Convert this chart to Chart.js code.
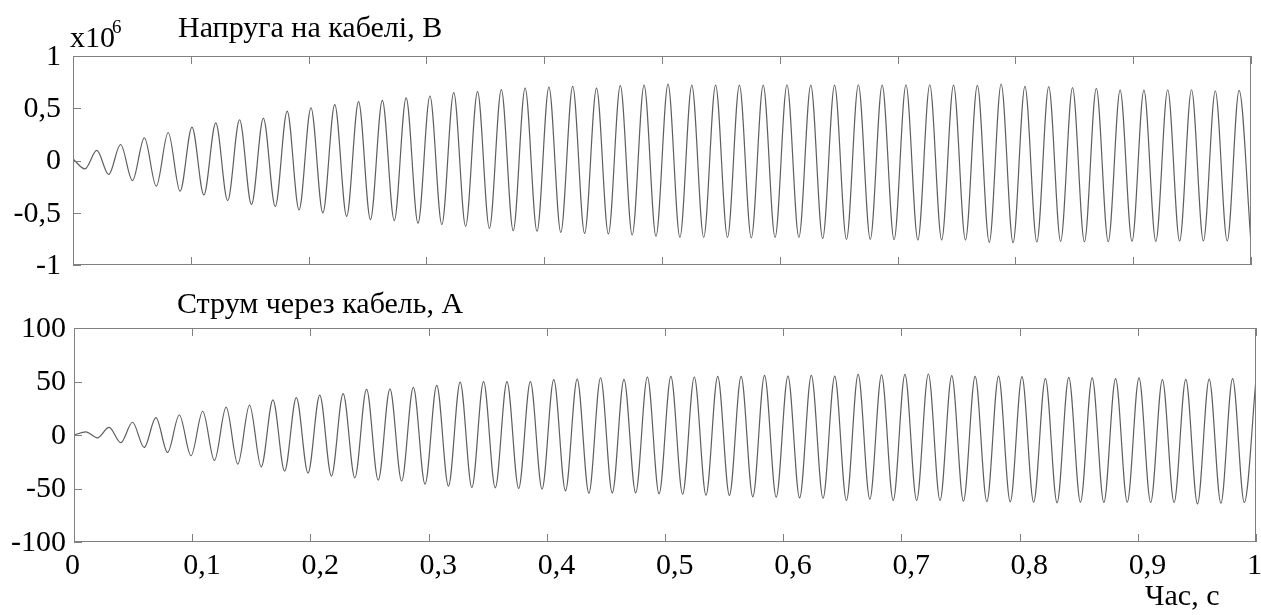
<!DOCTYPE html>
<html>
<head>
<meta charset="utf-8">
<title>Напруга і струм кабелю</title>
<script src="https://cdn.jsdelivr.net/npm/chart.js@4.4.1/dist/chart.umd.min.js"></script>
<style>
    body { margin: 0; background: #fff; }
    #wrap { position: relative; width: 1261px; height: 615px; overflow: hidden;
            font-family: "Liberation Serif", "Times New Roman", serif; color: #000; }
    #wrap canvas { position: absolute; left: 0; top: 0; }
    .txt { position: absolute; line-height: 1; white-space: nowrap; font-size: 30px; }
</style>
</head>
<body>
<div id="wrap">
    <canvas id="voltageChart" width="1261" height="615"></canvas>
    <canvas id="currentChart" width="1261" height="615"></canvas>
    <div class="txt" style="left:70px; top:22px;">x10</div>
    <div class="txt" style="left:112px; top:17px; font-size:19px;">6</div>
    <div class="txt" style="left:178px; top:12px;">Напруга на кабелі, В</div>
    <div class="txt" style="left:177px; top:288px;">Струм через кабель, А</div>
    <div class="txt" style="left:1145px; top:580px;">Час, с</div>
</div>
<script>
// extremum times (s) and values, peaks and troughs alternate
const voltageTime = [
    0, 0.0101, 0.0202, 0.0303, 0.0404, 0.0505, 0.0606, 0.0707, 0.0808, 0.0909,
    0.1010, 0.1111, 0.1212, 0.1313, 0.1414, 0.1515, 0.1616, 0.1717, 0.1818, 0.1919,
    0.2020, 0.2121, 0.2222, 0.2323, 0.2424, 0.2525, 0.2626, 0.2727, 0.2828, 0.2929,
    0.3030, 0.3131, 0.3232, 0.3333, 0.3434, 0.3535, 0.3636, 0.3737, 0.3838, 0.3939,
    0.4040, 0.4141, 0.4242, 0.4343, 0.4444, 0.4545, 0.4646, 0.4747, 0.4848, 0.4949,
    0.5051, 0.5152, 0.5253, 0.5354, 0.5455, 0.5556, 0.5657, 0.5758, 0.5859, 0.5960,
    0.6061, 0.6162, 0.6263, 0.6364, 0.6465, 0.6566, 0.6667, 0.6768, 0.6869, 0.6970,
    0.7071, 0.7172, 0.7273, 0.7374, 0.7475, 0.7576, 0.7677, 0.7778, 0.7879, 0.7980,
    0.8081, 0.8182, 0.8283, 0.8384, 0.8485, 0.8586, 0.8687, 0.8788, 0.8889, 0.8990,
    0.9091, 0.9192, 0.9293, 0.9394, 0.9495, 0.9596, 0.9697, 0.9798, 0.9899, 1.0000
];
// x10^6 V
const voltageValue = [
    0.015, -0.08, 0.096, -0.134, 0.153, -0.192, 0.217, -0.246, 0.268, -0.294,
    0.32, -0.329, 0.36, -0.384, 0.39, -0.422, 0.406, -0.441, 0.473, -0.473,
    0.505, -0.502, 0.534, -0.534, 0.563, -0.566, 0.575, -0.575, 0.60, -0.60,
    0.617, -0.614, 0.65, -0.63, 0.66, -0.649, 0.678, -0.671, 0.693, -0.677,
    0.703, -0.687, 0.71, -0.697, 0.693, -0.703, 0.716, -0.713, 0.722, -0.725,
    0.73, -0.735, 0.722, -0.735, 0.722, -0.735, 0.722, -0.741, 0.722, -0.735,
    0.725, -0.735, 0.722, -0.745, 0.722, -0.755, 0.725, -0.754, 0.722, -0.757,
    0.725, -0.761, 0.725, -0.761, 0.722, -0.761, 0.719, -0.783, 0.732, -0.786,
    0.709, -0.78, 0.706, -0.773, 0.697, -0.777, 0.69, -0.777, 0.674, -0.773,
    0.674, -0.773, 0.677, -0.77, 0.677, -0.77, 0.665, -0.77, 0.671, -0.793
];
const currentTime = [
    0, 0.0099, 0.0198, 0.0297, 0.0396, 0.0495, 0.0594, 0.0693, 0.0792, 0.0891,
    0.0990, 0.1089, 0.1188, 0.1287, 0.1386, 0.1485, 0.1584, 0.1683, 0.1782, 0.1881,
    0.1980, 0.2079, 0.2178, 0.2277, 0.2376, 0.2475, 0.2574, 0.2673, 0.2772, 0.2871,
    0.2970, 0.3069, 0.3168, 0.3267, 0.3366, 0.3465, 0.3564, 0.3663, 0.3762, 0.3861,
    0.3960, 0.4059, 0.4158, 0.4257, 0.4356, 0.4455, 0.4554, 0.4653, 0.4752, 0.4851,
    0.4950, 0.5050, 0.5149, 0.5248, 0.5347, 0.5446, 0.5545, 0.5644, 0.5743, 0.5842,
    0.5941, 0.6040, 0.6139, 0.6238, 0.6337, 0.6436, 0.6535, 0.6634, 0.6733, 0.6832,
    0.6931, 0.7030, 0.7129, 0.7228, 0.7327, 0.7426, 0.7525, 0.7624, 0.7723, 0.7822,
    0.7921, 0.8020, 0.8119, 0.8218, 0.8317, 0.8416, 0.8515, 0.8614, 0.8713, 0.8812,
    0.8911, 0.9010, 0.9109, 0.9208, 0.9307, 0.9406, 0.9505, 0.9604, 0.9703, 0.9802,
    0.9901, 1.0000
];
// A
const currentValue = [
    0, 3.0, -2.6, 7.2, -7.2, 11.9, -11.6, 16.3, -16.3, 18.7,
    -19.4, 22.2, -23.8, 26, -27.2, 28, -29.7, 32.8, -33.7, 35,
    -35.6, 37.2, -38.4, 38.7, -40, 42.8, -42.2, 43.1, -43.0, 44.5,
    -46.0, 46.4, -47.8, 49.5, -49.1, 49.8, -49.4, 49.8, -50.0, 49.8,
    -50.6, 51.7, -52.2, 52.3, -54.4, 53.5, -54.1, 52, -54.1, 54.2,
    -55.0, 54.8, -55.3, 54.2, -56.2, 54.8, -56.5, 54.8, -57.8, 55.8,
    -58.1, 55.1, -58.8, 55.8, -59.1, 55.0, -61.2, 56.7, -60.0, 56.1,
    -61.2, 56.7, -61.2, 57.0, -61.2, 55.4, -61.9, 54.8, -62.2, 55.1,
    -62.5, 54.5, -62.8, 52.6, -63.4, 53.9, -62.8, 53.3, -63.1, 52.6,
    -62.8, 53.3, -63.1, 51.7, -63.1, 52.0, -64.4, 52.3, -63.7, 52.6,
    -63.1, 52.0
];

const timeTickLabels = ['0', '0,1', '0,2', '0,3', '0,4', '0,5', '0,6', '0,7', '0,8', '0,9', '1'];
const voltageTickLabels = ['-1', '-0,5', '0', '0,5', '1'];
const currentTickLabels = ['-100', '-50', '0', '50', '100'];

const FONT = {family: '"Liberation Serif", "Times New Roman", serif', size: 30};
const FRAME = '#808080';

// MATLAB-like box with inward ticks
const frameTicks = {
    id: 'frameTicks',
    afterDatasetsDraw(chart) {
        const {ctx, chartArea: a, scales: {x, y}} = chart;
        ctx.save();
        ctx.strokeStyle = FRAME;
        ctx.lineWidth = 1;
        ctx.beginPath();
        x.ticks.forEach(t => {
            const px = Math.round(x.getPixelForValue(t.value)) + 0.5;
            ctx.moveTo(px, a.top); ctx.lineTo(px, a.top + 8);
            ctx.moveTo(px, a.bottom); ctx.lineTo(px, a.bottom - 8);
        });
        y.ticks.forEach(t => {
            const py = Math.round(y.getPixelForValue(t.value)) + 0.5;
            ctx.moveTo(a.left, py); ctx.lineTo(a.left + 8, py);
        });
        ctx.stroke();
        ctx.strokeRect(Math.round(a.left) + 0.5, Math.round(a.top) + 0.5,
            Math.round(a.right - a.left) - 1, Math.round(a.bottom - a.top) - 1);
        ctx.restore();
    }
};

const makePoints = (times, values) => times.map((t, i) => ({x: t, y: values[i]}));

const renderPanel = (id, points, yMin, yMax, yStep, yLabels, yPad, box, showTimeLabels) => {
    const ctx = document.getElementById(id).getContext('2d');
    return new Chart(ctx, {
        type: 'line',
        data: {
            datasets: [{
                data: points,
                borderColor: '#5e5e5e',
                borderWidth: 1.2,
                pointRadius: 0,
                cubicInterpolationMode: 'monotone',
                fill: false
            }]
        },
        options: {
            responsive: false,
            animation: false,
            events: [],
            layout: {padding: {left: 0, top: box.top, right: 1261 - box.right, bottom: showTimeLabels ? 0 : 615 - box.bottom}},
            plugins: {legend: {display: false}, tooltip: {enabled: false}, title: {display: false}},
            scales: {
                x: {
                    type: 'linear',
                    min: 0,
                    max: 1,
                    grid: {display: false, drawTicks: false},
                    border: {display: false},
                    ticks: {
                        display: showTimeLabels,
                        stepSize: 0.1,
                        autoSkip: false,
                        maxRotation: 0,
                        align: 'start',
                        labelOffset: -9,
                        padding: 6,
                        color: '#000',
                        font: FONT,
                        callback: (v, i) => timeTickLabels[i]
                    },
                    afterFit: s => {
                        s.height = showTimeLabels ? 615 - box.bottom : 0;
                        s.paddingLeft = 0; s.paddingRight = 0;
                    }
                },
                y: {
                    min: yMin,
                    max: yMax,
                    grid: {display: false, drawTicks: false},
                    border: {display: false},
                    ticks: {
                        stepSize: yStep,
                        padding: yPad,
                        color: '#000',
                        font: FONT,
                        // top label sits a little below its tick, as in the source
                        labelOffset: c => (c.index === yLabels.length - 1 ? 5 : 1),
                        callback: (v, i) => yLabels[i]
                    },
                    afterFit: s => {
                        s.width = box.left;
                        s.paddingTop = 0; s.paddingBottom = 0;
                    }
                }
            }
        },
        plugins: [frameTicks]
    });
};

window.addEventListener('DOMContentLoaded', () => {
    renderPanel('voltageChart', makePoints(voltageTime, voltageValue), -1, 1, 0.5,
        voltageTickLabels, 12, {left: 73, top: 56, right: 1251, bottom: 265}, false);
    renderPanel('currentChart', makePoints(currentTime, currentValue), -100, 100, 50,
        currentTickLabels, 8, {left: 74, top: 328, right: 1256, bottom: 542}, true);
});
</script>
</body>
</html>
